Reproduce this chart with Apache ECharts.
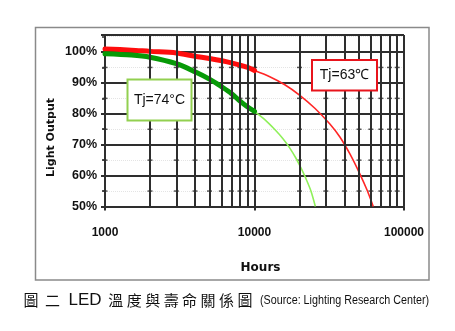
<!DOCTYPE html>
<html><head><meta charset="utf-8">
<script src="https://cdn.jsdelivr.net/npm/echarts@6/dist/echarts.min.js"></script>
<style>html,body{margin:0;padding:0;background:#fff}#c{width:455px;height:331px}</style>
</head><body><div id="c"></div>
<script>
// Data
const yTicks = [50, 60, 70, 80, 90, 100];
const xTicks = [1000, 10000, 100000];
const minorHours = [2000,3000,4000,5000,6000,7000,8000,9000,20000,30000,40000,50000,60000,70000,80000,90000];
const halfLevels = [55, 65, 75, 85, 95];

const redThickHours = [1000,1500,2000,3000,4000,5000,7000,9000,10000];
const redThickOutput = [101.0,100.6,100.2,99.7,98.6,97.9,96.5,95.0,94.0];
const redThinHours = [10000,12650,15950,20100,25330,31930,37260,43470,50730,56510,62280];
const redThinOutput = [94.0,92.0,89.4,86.0,81.8,76.7,72.5,67.0,60.5,55.4,50.0];
const greenThickHours = [1000,1500,2000,3000,4000,5000,6000,7000,8000,9000,10000];
const greenThickOutput = [99.4,99.0,98.3,96.2,93.6,91.2,88.8,86.6,84.1,82.2,80.8];
const greenThinHours = [10000,11720,13670,15460,17230,18900,20410,22050,23820,25530];
const greenThinOutput = [80.8,78.1,74.9,72.0,68.9,65.7,62.6,59.1,55.1,50.0];

const zip = (a, b) => a.map((v, i) => [v, b[i]]);
const gridColor = '#2e2e2e';
const labelFont = '"Liberation Sans", Arial, sans-serif';

const marks = [];
[1000].concat(minorHours, [10000]).forEach(h => halfLevels.forEach(l => marks.push([h, l])));

const chart = echarts.init(document.getElementById('c'), null, {renderer: 'canvas'});
const cjk = (t, x) => ({type: 'text', x: x, y: 300, style: {text: t, fill: '#111', font: '15px "Noto Sans CJK TC", sans-serif', textAlign: 'center', textVerticalAlign: 'middle'}});
chart.setOption({
  animation: false,
  backgroundColor: '#fff',
  grid: {left: 105, right: 51, top: 35, bottom: 124.5, containLabel: false},
  xAxis: {
    type: 'log', logBase: 10, min: 1000, max: 100000,
    axisLine: {show: true, onZero: false, lineStyle: {color: gridColor, width: 2}},
    axisTick: {show: true, length: 4, lineStyle: {color: gridColor, width: 2}},
    splitLine: {show: true, lineStyle: {color: gridColor, width: 2}},
    minorTick: {show: false}, minorSplitLine: {show: false},
    axisLabel: {
      margin: 20, color: '#111', fontFamily: labelFont, fontWeight: 'bold', fontSize: 12,
      formatter: v => xTicks.includes(Math.round(v)) ? String(Math.round(v)) : ''
    }
  },
  yAxis: {
    type: 'value', min: 50, max: 105.5, interval: 10,
    axisLine: {show: true, lineStyle: {color: gridColor, width: 2}},
    axisTick: {show: true, length: 4, lineStyle: {color: gridColor, width: 2}},
    minorTick: {show: true, splitNumber: 2, length: 3, lineStyle: {color: gridColor, width: 1.5}},
    minorSplitLine: {show: true, lineStyle: {color: '#e4e4e4', width: 1, type: 'dotted'}},
    splitLine: {show: true, lineStyle: {color: gridColor, width: 2}},
    axisLabel: {
      margin: 8, color: '#111', fontFamily: labelFont, fontWeight: 'bold', fontSize: 12.5,
      formatter: v => yTicks.includes(Math.round(v)) && Math.abs(v - Math.round(v)) < 1e-6 ? v + '%' : ''
    }
  },
  series: [
    {
      type: 'line', data: [], z: 1, silent: true,
      markLine: {
        silent: true, symbol: 'none', label: {show: false}, animation: false,
        lineStyle: {color: gridColor, width: 2, type: 'solid'},
        data: minorHours.map(h => ({xAxis: h}))
      }
    },
    {
      type: 'scatter', data: marks, z: 2, silent: true,
      symbol: 'rect', symbolSize: [5, 1.5], itemStyle: {color: gridColor}
    },
    {type: 'line', data: zip(redThinHours, redThinOutput), smooth: 0.3, showSymbol: false, z: 3,
     lineStyle: {color: '#ff2626', width: 1.6}},
    {type: 'line', data: zip(greenThinHours, greenThinOutput), smooth: 0.3, showSymbol: false, z: 3,
     lineStyle: {color: '#8ff05a', width: 1.6}},
    {type: 'line', data: zip(redThickHours, redThickOutput), smooth: 0.3, showSymbol: false, z: 4,
     lineStyle: {color: '#ff0d0d', width: 5, cap: 'round'}},
    {type: 'line', data: zip(greenThickHours, greenThickOutput), smooth: 0.3, showSymbol: false, z: 4,
     lineStyle: {color: '#079a07', width: 5, cap: 'round'}}
  ],
  graphic: [
    {type: 'rect', shape: {x: 35.5, y: 27.5, width: 393.5, height: 252.5}, style: {fill: 'none', stroke: '#8a8a8a', lineWidth: 1.5}, z: 0, silent: true},
    {type: 'rect', shape: {x: 127.5, y: 79.5, width: 64, height: 41}, style: {fill: '#fff', stroke: '#92d050', lineWidth: 2}, z: 10},
    {type: 'text', x: 159.5, y: 100, style: {text: 'Tj=74°C', fill: '#111', font: '14px "Liberation Sans", Arial, sans-serif', textAlign: 'center', textVerticalAlign: 'middle'}, z: 11},
    {type: 'rect', shape: {x: 312, y: 60, width: 65, height: 30.5}, style: {fill: '#fff', stroke: '#e8141c', lineWidth: 2}, z: 10},
    {type: 'text', x: 344.5, y: 75.5, style: {text: 'Tj=63℃', fill: '#111', font: '14px "Liberation Sans", Arial, sans-serif', textAlign: 'center', textVerticalAlign: 'middle'}, z: 11},
    {type: 'text', x: 51.5, y: 137.5, rotation: Math.PI / 2, style: {text: 'Light Output', fill: '#111', font: 'bold 11px "DejaVu Sans", Verdana, sans-serif', textAlign: 'center', textVerticalAlign: 'middle'}, z: 11},
    {type: 'text', x: 260.5, y: 268, style: {text: 'Hours', fill: '#111', font: 'bold 12px "DejaVu Sans", Verdana, sans-serif', textAlign: 'center', textVerticalAlign: 'middle'}, z: 11},
    cjk('圖', 31), cjk('二', 52.5),
    {type: 'text', x: 85, y: 300, style: {text: 'LED', fill: '#111', font: '17px "Liberation Sans", Arial, sans-serif', textAlign: 'center', textVerticalAlign: 'middle'}},
    cjk('溫', 115.8), cjk('度', 134.3), cjk('與', 152.7), cjk('壽', 171.2),
    cjk('命', 189.6), cjk('關', 208.1), cjk('係', 226.5), cjk('圖', 245),
    {type: 'text', x: 260, y: 300.5, scaleX: 0.86, style: {text: '(Source: Lighting Research Center)', fill: '#111', font: '12.5px "Liberation Sans", Arial, sans-serif', textAlign: 'left', textVerticalAlign: 'middle'}}
  ]
});
</script>
</body></html>
